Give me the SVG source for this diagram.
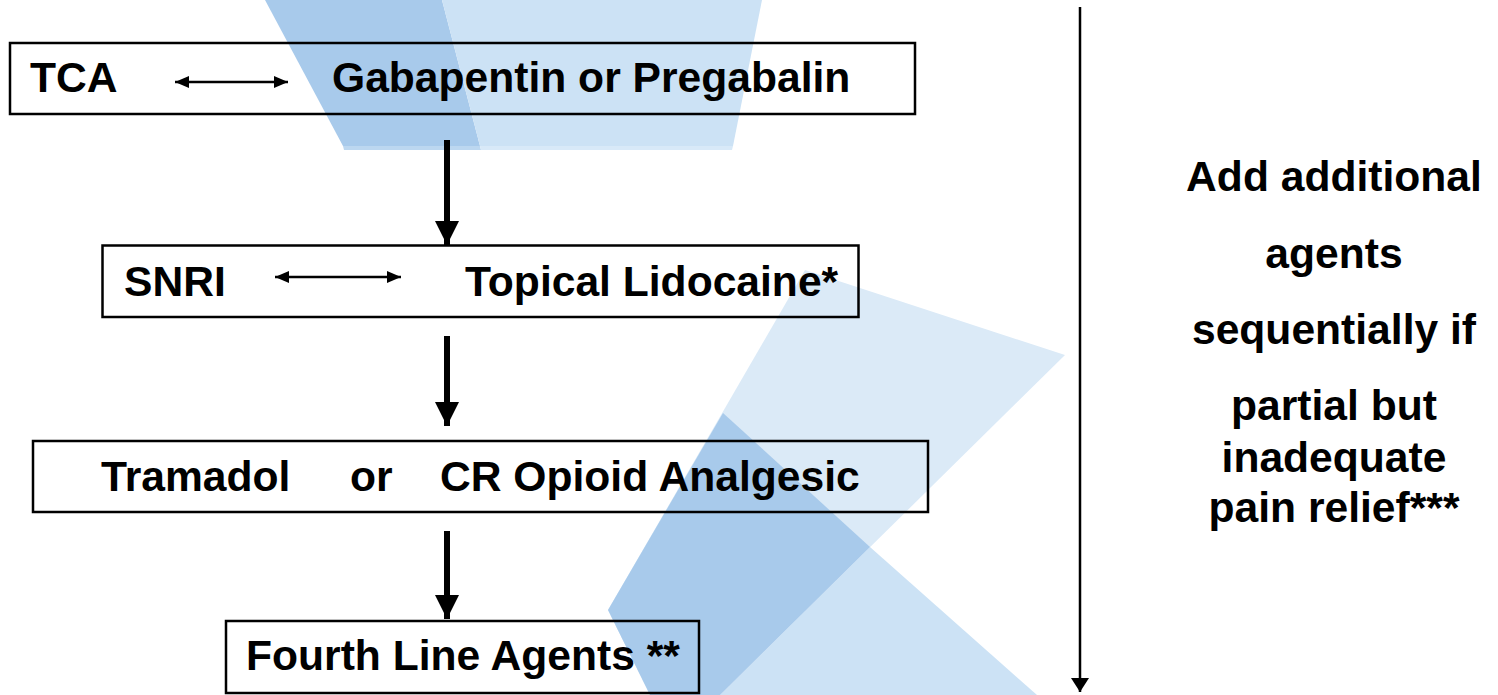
<svg xmlns="http://www.w3.org/2000/svg" width="1498" height="695" viewBox="0 0 1498 695">
<style>
.box{fill:none;stroke:#000;stroke-width:2.5}
.t{font-family:"Liberation Sans",Arial,sans-serif;font-weight:bold;font-size:42.6px;fill:#000}
.r{font-family:"Liberation Sans",Arial,sans-serif;font-weight:bold;font-size:42.6px;fill:#000;text-anchor:middle}
.thin{stroke:#000;stroke-width:2.5;fill:none}
.thick{stroke:#000;stroke-width:6;fill:none}
</style>
<defs>
<marker id="sh" viewBox="0 0 14 12" refX="14" refY="6" markerWidth="14" markerHeight="12" markerUnits="userSpaceOnUse" orient="auto-start-reverse">
<path d="M0,0 L14,6 L0,12 Z" fill="#000"/>
</marker>
<marker id="vt" viewBox="0 0 14 18" refX="14" refY="9" markerWidth="14" markerHeight="18" markerUnits="userSpaceOnUse" orient="auto">
<path d="M0,0 L14,9 L0,18 Z" fill="#000"/>
</marker>
<marker id="big" viewBox="0 0 24 24" refX="24" refY="12" markerWidth="24" markerHeight="24" markerUnits="userSpaceOnUse" orient="auto">
<path d="M0,0 L24,12 L0,24 Z" fill="#000"/>
</marker>
</defs>
<rect width="1498" height="695" fill="#fff"/>
<g id="background">
<polygon points="265,0 442,0 480,146 343,146" fill="#a8caeb"/>
<polygon points="442,0 762,0 733,146 480,146" fill="#cce2f5"/>
<polygon points="343,146 480,146 481,150 344,150" fill="#bcd7f0"/>
<polygon points="480,146 733,146 732,150 481,150" fill="#d8e9f8"/>
<polygon points="805,270 1065,355 720,695 650,695 608,610" fill="#dbeaf7"/>
<polygon points="870,547 1037,695 720,695" fill="#cce2f5"/>
<polygon points="723,413 870,547 720,695 650,695 608,610" fill="#a8caeb"/>
</g>
<g id="connectors">
<line class="thin" x1="175" y1="82" x2="288" y2="82" marker-start="url(#sh)" marker-end="url(#sh)"/>
<line class="thin" x1="275" y1="277" x2="401" y2="277" marker-start="url(#sh)" marker-end="url(#sh)"/>
<line class="thick" x1="447" y1="140" x2="447" y2="245" marker-end="url(#big)"/>
<line class="thick" x1="447" y1="336" x2="447" y2="426" marker-end="url(#big)"/>
<line class="thick" x1="447" y1="531" x2="447" y2="619" marker-end="url(#big)"/>
<line class="thin" x1="1080" y1="7" x2="1080" y2="692" marker-end="url(#vt)"/>
</g>
<g id="node1">
<rect class="box" x="10" y="43" width="905" height="71"/>
<text class="t" x="30" y="92">TCA</text>
<text class="t" x="332" y="92">Gabapentin or Pregabalin</text>
</g>
<g id="node2">
<rect class="box" x="102.5" y="245.5" width="756" height="71.5"/>
<text class="t" x="124" y="296">SNRI</text>
<text class="t" x="465" y="296">Topical Lidocaine*</text>
</g>
<g id="node3">
<rect class="box" x="33" y="441" width="895" height="71"/>
<text class="t" y="491"><tspan x="101">Tramadol</tspan><tspan x="350">or</tspan><tspan x="440">CR Opioid Analgesic</tspan></text>
</g>
<g id="node4">
<rect class="box" x="226" y="621" width="473" height="72"/>
<text class="t" x="246" y="670">Fourth Line Agents **</text>
</g>
<g id="note">
<text class="r" x="1334" y="191">Add additional</text>
<text class="r" x="1334" y="268">agents</text>
<text class="r" x="1334" y="344">sequentially if</text>
<text class="r" x="1334" y="420">partial but</text>
<text class="r" x="1334" y="472">inadequate</text>
<text class="r" x="1334" y="522">pain relief***</text>
</g>
</svg>
